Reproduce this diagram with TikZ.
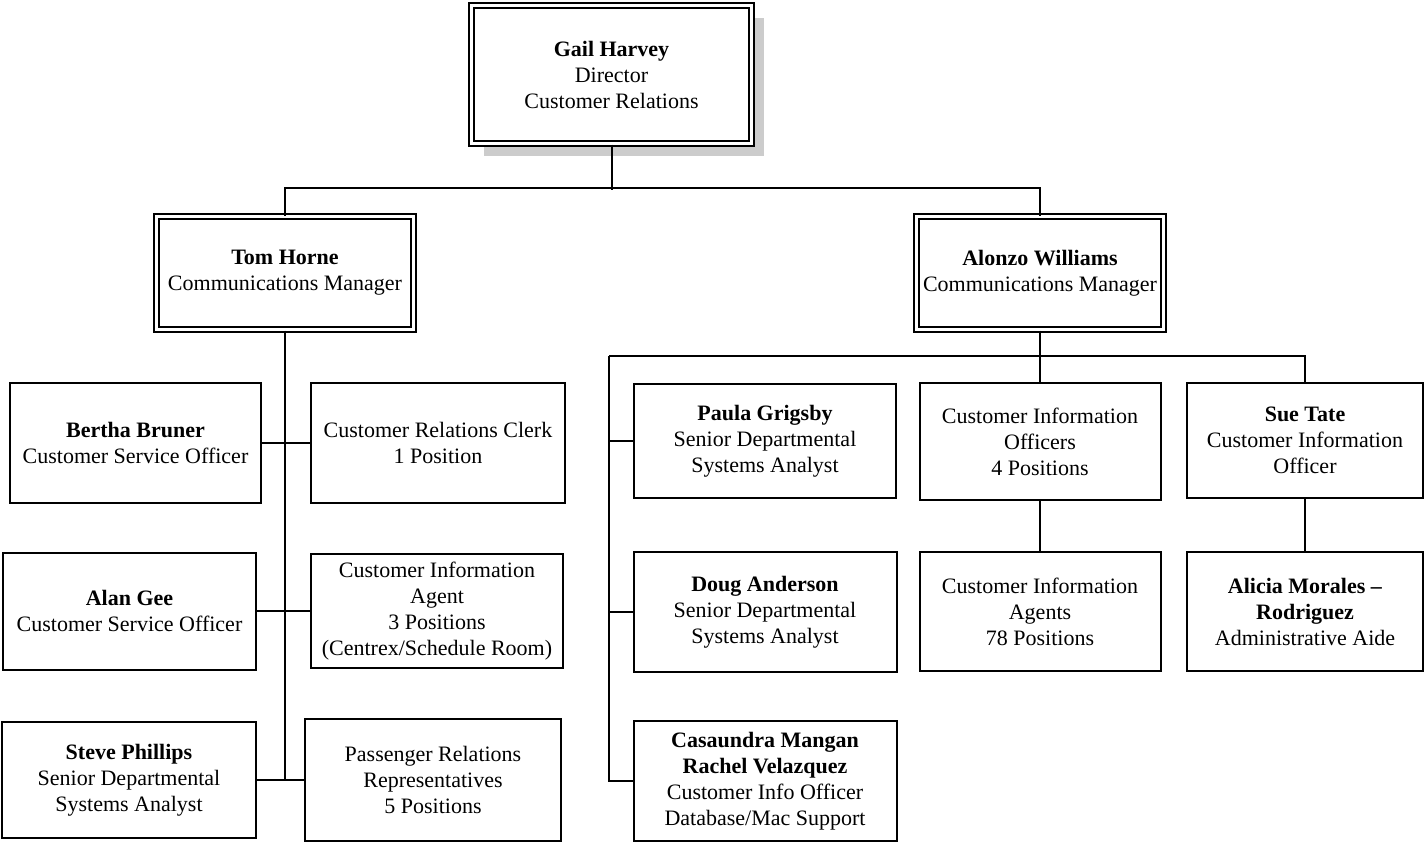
\documentclass[tikz,border=0pt]{standalone}
\usepackage{fontspec}
\setmainfont{Liberation Serif}
\usetikzlibrary{positioning, shadows}

\begin{document}
\begin{tikzpicture}[
    x=0.5pt, y=-0.5pt,
    every node/.style={font=\fontsize{11}{13}\selectfont},
    unit/.style={rectangle, draw, fill=white, line width=1pt, inner sep=0pt, align=center},
    head/.style={unit, double, line width=1pt, double distance=1.5pt},
    link/.style={line width=1pt},
]
\useasboundingbox (0,0) rectangle (1424,843);

% Director and managers
\node[head, minimum width=140pt, minimum height=69pt,
      drop shadow={shadow xshift=6pt, shadow yshift=-6pt, fill=black!20, opacity=1}]
      (gail) at (611.5,74.5) {\textbf{Gail Harvey}\\Director\\Customer Relations};
\node[head, minimum width=128.5pt, minimum height=56.5pt] (tom) at (285,273) {\textbf{Tom Horne}\\Communications Manager};
\node[head, minimum width=123.5pt, minimum height=56.5pt] (alonzo) at (1040,273) {\textbf{Alonzo Williams}\\Communications Manager};

% Tom Horne's staff
\node[unit, minimum width=125.5pt, minimum height=60pt] (bertha) at (135.5,443) {\textbf{Bertha Bruner}\\Customer Service Officer};
\node[unit, minimum width=127pt, minimum height=60pt, right=24pt of bertha] (clerk) {Customer Relations Clerk\\1 Position};
\node[unit, minimum width=126.5pt, minimum height=58.5pt] (alan) at (129.5,611) {\textbf{Alan Gee}\\Customer Service Officer};
\node[unit, minimum width=126pt, minimum height=57pt, right=26.5pt of alan] (agent) {Customer Information\\Agent\\3 Positions\\(Centrex/Schedule Room)};
\node[unit, minimum width=127pt, minimum height=58pt] (steve) at (129,780) {\textbf{Steve Phillips}\\Senior Departmental\\Systems Analyst};
\node[unit, minimum width=128pt, minimum height=61pt, right=23.5pt of steve] (passenger) {Passenger Relations\\Representatives\\5 Positions};

% Alonzo Williams' staff
\node[unit, minimum width=131pt, minimum height=57pt] (paula) at (765,441) {\textbf{Paula Grigsby}\\Senior Departmental\\Systems Analyst};
\node[unit, minimum width=131.5pt, minimum height=60pt, below=26pt of paula] (doug) {\textbf{Doug Anderson}\\Senior Departmental\\Systems Analyst};
\node[unit, minimum width=131.5pt, minimum height=60pt, below=23.5pt of doug] (casaundra) {\textbf{Casaundra Mangan}\\\textbf{Rachel Velazquez}\\Customer Info Officer\\Database/Mac Support};
\node[unit, minimum width=120.5pt, minimum height=58.5pt] (cio) at (1040,441.5) {Customer Information\\Officers\\4 Positions};
\node[unit, minimum width=120.5pt, minimum height=59.5pt, below=25pt of cio] (cia) {Customer Information\\Agents\\78 Positions};
\node[unit, minimum width=118pt, minimum height=57.5pt] (sue) at (1305,440.5) {\textbf{Sue Tate}\\Customer Information\\Officer};
\node[unit, minimum width=118pt, minimum height=59.5pt, below=26pt of sue] (alicia) {\textbf{Alicia Morales --}\\\textbf{Rodriguez}\\Administrative Aide};

% Top level lines
\draw[link] (gail.south) -- ++(0,45.5);
\draw[link] (tom.north) -- ++(0,-27.5) -| (alonzo.north);

% Tom Horne's trunk
\draw[link] (tom.south) -- (tom.south |- steve.east);
\draw[link] (bertha.east) -- (clerk.west);
\draw[link] (alan.east) -- (agent.west);
\draw[link] (steve.east) -- (passenger.west);

% Alonzo Williams' bus
\coordinate (bus) at (609,356);
\draw[link] (alonzo.south) -- (cio.north);
\draw[link] (bus) -| (sue.north);
\draw[link] (bus) |- (casaundra.west);
\draw[link] (bus |- paula.west) -- (paula.west);
\draw[link] (bus |- doug.west) -- (doug.west);
\draw[link] (cio.south) -- (cia.north);
\draw[link] (sue.south) -- (alicia.north);

\end{tikzpicture}
\end{document}
